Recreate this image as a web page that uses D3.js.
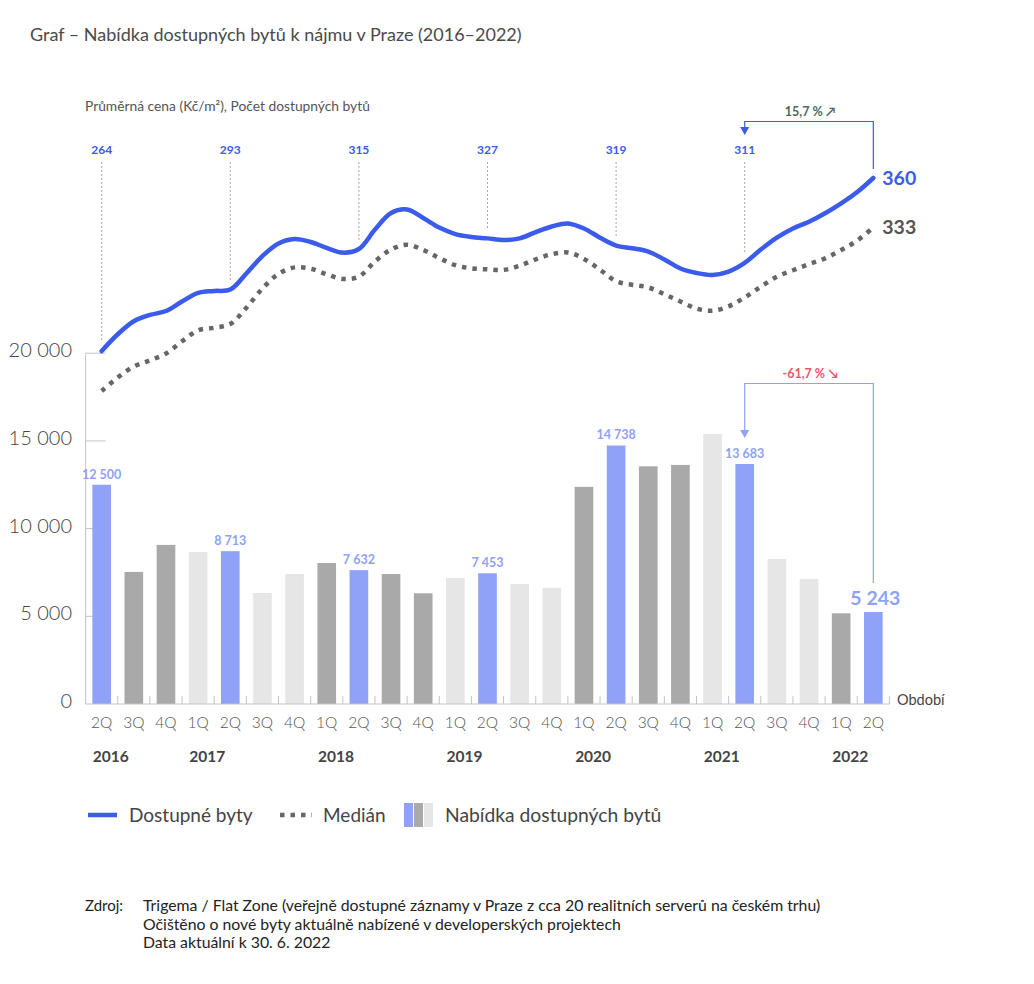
<!DOCTYPE html>
<html>
<head>
<meta charset="utf-8">
<script src="https://cdn.jsdelivr.net/npm/d3@7"></script>
<style>
  html, body { margin: 0; padding: 0; background: #fff; }
  svg { display: block; font-family: Lato, "Noto Sans", sans-serif; }
</style>
</head>
<body>
<svg id="chart" width="1034" height="984"></svg>
<script>
// ---------- DATA ----------
const periods = ["2016-2Q","2016-3Q","2016-4Q","2017-1Q","2017-2Q","2017-3Q","2017-4Q",
  "2018-1Q","2018-2Q","2018-3Q","2018-4Q","2019-1Q","2019-2Q","2019-3Q","2019-4Q",
  "2020-1Q","2020-2Q","2020-3Q","2020-4Q","2021-1Q","2021-2Q","2021-3Q","2021-4Q",
  "2022-1Q","2022-2Q"];
const quarterLabels = ["2Q","3Q","4Q","1Q","2Q","3Q","4Q","1Q","2Q","3Q","4Q","1Q","2Q",
  "3Q","4Q","1Q","2Q","3Q","4Q","1Q","2Q","3Q","4Q","1Q","2Q"];
const offerValues = [12500, 7530, 9070, 8670, 8713, 6330, 7410, 8040, 7632, 7410, 6310, 7190,
  7453, 6840, 6620, 12380, 14738, 13550, 13630, 15400, 13683, 8270, 7130, 5170, 5243];
const yearLabels = ["2016","2017","2018","2019","2020","2021","2022"];
const yearStartPeriods = ["2016-2Q","2017-1Q","2018-1Q","2019-1Q","2020-1Q","2021-1Q","2022-1Q"];
const barTicks = [0, 5000, 10000, 15000, 20000];

// price (Kč/m²), half-quarter steps from 2Q 2016 to 2Q 2022
const availablePrice = [264.0, 273.3, 280.5, 284.0, 286.2, 291.5, 296.2, 297.3, 298.1, 307.0,
  316.7, 323.7, 326.2, 324.5, 321.2, 318.6, 320.6, 331.4, 340.6, 342.5, 337.8, 332.5, 328.9,
  327.3, 326.5, 325.6, 326.5, 330.0, 333.1, 334.8, 332.0, 326.9, 322.5, 321.0, 319.2, 314.8,
  309.8, 307.3, 306.2, 308.1, 312.9, 320.3, 326.9, 332.0, 335.7, 340.4, 345.9, 352.2, 360.0];
const medianPrice = [241.8, 249.3, 255.4, 258.8, 262.6, 269.4, 275.5, 276.9, 279.0, 288.0,
  298.7, 306.8, 310.4, 309.7, 306.5, 304.0, 305.3, 313.7, 320.3, 323.0, 320.1, 315.6, 311.6,
  309.9, 309.3, 309.0, 311.3, 314.9, 317.7, 318.7, 315.1, 309.1, 302.7, 300.7, 299.3, 295.5,
  291.5, 287.5, 286.4, 288.8, 293.7, 299.7, 305.2, 308.8, 312.2, 315.4, 320.0, 325.3, 332.5];
const priceLabelPeriods = ["2016-2Q","2017-2Q","2018-2Q","2019-2Q","2020-2Q","2021-2Q"];
const priceLabelValues = [264, 293, 315, 327, 319, 311];
const endAvailable = 360, endMedian = 333;
const priceChange = "15,7 % \u2197";
const offerChange = "-61,7 % \u2198";

const titleText = "Graf \u2013 Nabídka dostupných bytů k nájmu v Praze (2016\u20132022)";
const subtitleText = "Průměrná cena (Kč/m²), Počet dostupných bytů";
const sourceLines = ["Trigema / Flat Zone (veřejně dostupné záznamy v Praze z cca 20 realitních serverů na českém trhu)",
  "Očištěno o nové byty aktuálně nabízené v developerských projektech",
  "Data aktuální k 30. 6. 2022"];
const legendItems = ["Dostupné byty", "Medián", "Nabídka dostupných bytů"];

// ---------- STYLE ----------
const C = { blue: "#3b5bea", barBlue: "#8fa2f7", dark: "#a9a9a9", light: "#e6e6e6",
  axis: "#c4c4c4", text: "#444", median: "#666", green: "#4d6a5e", red: "#e8566c" };

const svg = d3.select("#chart");
const fmt = d3.formatLocale({ decimal: ",", thousands: "\u00a0", grouping: [3], currency: ["", ""] }).format(",d");

const x = d3.scaleBand().domain(periods).range([85.6, 889.4]).paddingInner(0.42).paddingOuter(0.21);
const cx = p => x(p) + x.bandwidth() / 2;
const yBar = d3.scaleLinear().domain([0, 20000]).range([704, 353.2]);
const yPrice = d3.scaleLinear().domain([264, 360]).range([351, 178]);
const xHalf = d3.scaleLinear().domain([0, periods.length - 1]).range([cx(periods[0]), cx(periods[periods.length - 1])]);

// title
svg.append("text").attr("x", 30).attr("y", 41).attr("fill", "#4a4a4a")
  .attr("font-size", 18).text(titleText);
svg.append("text").attr("x", 85).attr("y", 111).attr("fill", "#555")
  .attr("font-size", 13.8).text(subtitleText);

// y axis
const gy = svg.append("g");
gy.append("line").attr("x1", 85.6).attr("x2", 85.6).attr("y1", yBar(20000)).attr("y2", yBar(0))
  .attr("stroke", C.axis);
barTicks.forEach(t => {
  if (t > 0) gy.append("line").attr("x1", 85.6).attr("x2", 105.6).attr("y1", yBar(t)).attr("y2", yBar(t)).attr("stroke", C.axis);
  gy.append("text").attr("x", 72).attr("y", yBar(t) + 4).attr("text-anchor", "end")
    .attr("font-size", 20).attr("fill", "#444").attr("font-weight", 300).text(fmt(t));
});

// bars
const barColor = (p) => {
  const [yr, q] = p.split("-");
  if (q === "2Q") return C.barBlue;
  return (+yr % 2 === 0) ? C.dark : C.light;
};
svg.append("g").selectAll("rect").data(periods).join("rect")
  .attr("x", p => x(p)).attr("width", x.bandwidth())
  .attr("y", (p, i) => yBar(offerValues[i])).attr("height", (p, i) => yBar(0) - yBar(offerValues[i]))
  .attr("fill", barColor);

// bar value labels for 2Q
periods.forEach((p, i) => {
  if (!p.endsWith("2Q")) return;
  const last = i === periods.length - 1;
  svg.append("text").attr("x", cx(p) + (last ? 2 : 0)).attr("y", yBar(offerValues[i]) - (last ? 7 : 6))
    .attr("text-anchor", "middle").attr("font-weight", 700).attr("font-size", last ? 19.5 : 12.5)
    .attr("fill", C.barBlue).text(fmt(offerValues[i]));
});

// x axis
const gx = svg.append("g");
gx.append("line").attr("x1", 85.6).attr("x2", 889.4).attr("y1", yBar(0)).attr("y2", yBar(0)).attr("stroke", C.axis);
periods.forEach((p, i) => {
  const bx = x(p) - x.step() * x.paddingInner() / 2;
  if (i > 0) gx.append("line").attr("x1", bx).attr("x2", bx).attr("y1", yBar(0)).attr("y2", yBar(0) - 8).attr("stroke", C.axis);
  gx.append("text").attr("x", cx(p)).attr("y", 728).attr("text-anchor", "middle")
    .attr("font-size", 15.5).attr("fill", "#555").attr("font-weight", 300).text(quarterLabels[i]);
});
gx.append("line").attr("x1", 889.4).attr("x2", 889.4).attr("y1", yBar(0)).attr("y2", yBar(0) - 8).attr("stroke", C.axis);
gx.append("text").attr("x", 897).attr("y", 705).attr("font-size", 14.5).attr("fill", "#444").text("Období");
yearLabels.forEach((yl, i) => {
  svg.append("text").attr("x", x(yearStartPeriods[i]) + 0.5).attr("y", 762)
    .attr("font-size", 15.5).attr("font-weight", 700).attr("fill", "#444").text(yl);
});

// lines
const line = d3.line().x((d, j) => xHalf(j / 2)).y(d => yPrice(d)).curve(d3.curveCatmullRom.alpha(0.5));

// dotted guide lines + price labels
priceLabelPeriods.forEach((p, k) => {
  const idx = periods.indexOf(p);
  const yl = yPrice(availablePrice[idx * 2]);
  svg.append("line").attr("x1", cx(p)).attr("x2", cx(p)).attr("y1", 162).attr("y2", yl - 9)
    .attr("stroke", "#aaa").attr("stroke-width", 1).attr("stroke-dasharray", "2 2");
  svg.append("text").attr("x", cx(p)).attr("y", 154).attr("text-anchor", "middle")
    .attr("font-size", 12).attr("font-weight", 700).attr("fill", C.blue).text(priceLabelValues[k]);
});

svg.append("path").datum(medianPrice).attr("d", line).attr("fill", "none")
  .attr("stroke", C.median).attr("stroke-width", 4.5).attr("stroke-dasharray", "4.5 6");
svg.append("path").datum(availablePrice).attr("d", line).attr("fill", "none")
  .attr("stroke", C.blue).attr("stroke-width", 4.5).attr("stroke-linecap", "round");

const xEnd = cx(periods[periods.length - 1]);
svg.append("text").attr("x", xEnd + 9).attr("y", yPrice(endAvailable) + 7)
  .attr("font-size", 19.5).attr("font-weight", 700).attr("fill", C.blue).text(endAvailable);
svg.append("text").attr("x", xEnd + 9).attr("y", yPrice(endMedian) + 7)
  .attr("font-size", 19.5).attr("font-weight", 700).attr("fill", "#555").text(endMedian);

// bracket arrows
function bracket(xFrom, xTo, yTop, yRight, yArrowTip, color, label, labelColor) {
  const g = svg.append("g");
  g.append("path").attr("d", `M${xTo},${yRight} V${yTop} H${xFrom} V${yArrowTip - 7}`)
    .attr("fill", "none").attr("stroke", color).attr("stroke-width", 1.2);
  g.append("path").attr("d", `M${xFrom - 4.5},${yArrowTip - 8} L${xFrom + 4.5},${yArrowTip - 8} L${xFrom},${yArrowTip} Z`)
    .attr("fill", color);
  g.append("text").attr("x", (xFrom + xTo) / 2 + 1).attr("y", yTop - 6).attr("text-anchor", "middle")
    .attr("font-size", 12.5).attr("font-weight", 700).attr("fill", labelColor).text(label);
}
const x21 = cx("2021-2Q");
bracket(x21, xEnd, 121.5, yPrice(endAvailable) - 9, 135, C.blue, priceChange, C.green);
bracket(x21, xEnd, 383.5, yBar(offerValues[offerValues.length - 1]) - 29, 438, C.barBlue, offerChange, C.red);

// legend
const lg = svg.append("g");
lg.append("line").attr("x1", 88).attr("x2", 117).attr("y1", 815).attr("y2", 815).attr("stroke", C.blue).attr("stroke-width", 4.5);
lg.append("text").attr("x", 129).attr("y", 821.5).attr("font-size", 19).attr("fill", C.text).text(legendItems[0]);
lg.append("line").attr("x1", 280).attr("x2", 312).attr("y1", 815).attr("y2", 815).attr("stroke", C.median)
  .attr("stroke-width", 4.5).attr("stroke-dasharray", "4.5 6");
lg.append("text").attr("x", 323).attr("y", 821.5).attr("font-size", 19).attr("fill", C.text).text(legendItems[1]);
[C.barBlue, C.dark, C.light].forEach((c, i) => {
  lg.append("rect").attr("x", 404 + i * 10).attr("y", 803).attr("width", 9).attr("height", 24).attr("fill", c);
});
lg.append("text").attr("x", 445).attr("y", 821.5).attr("font-size", 19.3).attr("fill", C.text).text(legendItems[2]);

// source
svg.append("text").attr("x", 85).attr("y", 911).attr("font-size", 15).attr("fill", "#222").text("Zdroj:");
sourceLines.forEach((s, i) => {
  svg.append("text").attr("x", 143).attr("y", 911 + i * 18.5).attr("font-size", 15.8).attr("fill", "#222").text(s);
});
</script>
</body>
</html>
